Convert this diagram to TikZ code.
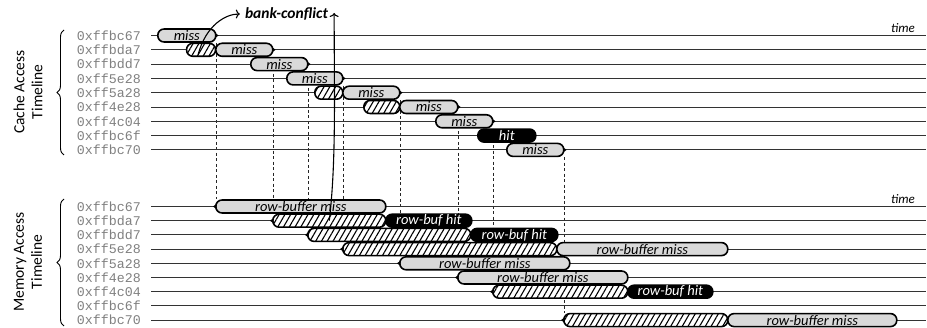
\documentclass[tikz,border=0pt]{standalone}
\usepackage{fontspec}
\setmainfont{Carlito}
\newfontfamily\addrfont{Liberation Mono}
\usetikzlibrary{arrows.meta,decorations.pathreplacing,patterns.meta,backgrounds}

\begin{document}
\begin{tikzpicture}[x=1pt,y=-1pt,
    addr/.style={anchor=east, inner sep=0pt, text=black!50, font=\addrfont\fontsize{13.3}{14}\selectfont},
    tline/.style={draw=black!80, line width=0.9pt},
    dline/.style={draw=black!85, line width=0.7pt, dash pattern=on 3pt off 2.5pt},
    seg/.style={draw=black, line width=1.6pt, rounded corners=6.3pt, minimum height=13pt,
      inner sep=0pt, anchor=west, font=\fontsize{14.5}{14}\selectfont\itshape},
    small/.style={font=\fontsize{14.5}{14}\selectfont\itshape},
    missbar/.style={seg, fill=black!15},
    hitbar/.style={seg, fill=black, text=white},
    waitbar/.style={seg, preaction={fill=white}, pattern={Lines[angle=60,distance=5pt,line width=1.1pt]}},
    timelbl/.style={anchor=south east, inner sep=1pt, font=\fontsize{13}{13}\selectfont\itshape},
    conflict/.style={-{To[length=4pt,width=9pt]}, line width=1.1pt}]

  \useasboundingbox (0,0) rectangle (927,328);

  % address labels and timelines
  \foreach \a [count=\i] in {0xffbc67,0xffbda7,0xffbdd7,0xff5e28,0xff5a28,0xff4e28,0xff4c04,0xffbc6f,0xffbc70} {
    \node[addr] (ca\i) at (141,{35.5+14.3*(\i-1)}) {\a};
    \node[addr] (ma\i) at (141,{206.5+14.2*(\i-1)}) {\a};
    \draw[tline] ([xshift=10pt]ca\i.east) -- ++(775,0);
    \draw[tline] ([xshift=10pt]ma\i.east) -- ++(775,0);
  }
  \node[timelbl] (ct) at (916,34) {time};
  \node[timelbl] (mt) at (916,205) {time};

  % braces
  \draw[decorate, decoration={brace, amplitude=7pt}, line width=0.9pt] (64,155) -- (64,30);
  \node[rotate=90, align=center, font=\fontsize{15.5}{18}\selectfont] (cl) at (28,92) {Cache Access\\Timeline};
  \draw[decorate, decoration={brace, amplitude=7pt}, line width=0.9pt] (64,326) -- (64,199);
  \node[rotate=90, align=center, font=\fontsize{15.5}{18}\selectfont] (ml) at (28,262) {Memory Access\\Timeline};

  % cache accesses
  \node[missbar, minimum width=58pt] (c1) at (157,35.5) {miss};
  \node[waitbar, minimum width=29pt] (c2h) at (186,49.8) {};
  \node[missbar, minimum width=57pt] (c2) at (215,49.8) {miss};
  \node[missbar, minimum width=57pt] (c3) at (250,64.1) {miss};
  \node[missbar, minimum width=56pt] (c4) at (286,78.4) {miss};
  \node[waitbar, minimum width=28pt] (c5h) at (314,92.7) {};
  \node[missbar, minimum width=57pt] (c5) at (342,92.7) {miss};
  \node[waitbar, minimum width=36pt] (c6h) at (363,107) {};
  \node[missbar, minimum width=58pt] (c6) at (399,107) {miss};
  \node[missbar, minimum width=57pt] (c7) at (435,121.3) {miss};
  \node[hitbar, minimum width=58pt] (c8) at (477,135.6) {hit};
  \node[missbar, minimum width=57pt] (c9) at (506,149.9) {miss};
  \foreach \n in {c1,c2,c3,c4,c5,c6,c7,c9}
    \fill ([xshift=2pt]\n.east) -- ++(-3.5,2.6) -- ++(0,-5.2) -- cycle;

  % memory accesses
  \node[missbar, small, minimum width=170pt] (m1) at (215,206.5) {row-buffer miss};
  \node[waitbar, minimum width=113pt] (m2h) at (272,220.7) {};
  \node[hitbar, small, minimum width=86pt] (m2) at (385,220.7) {row-buf hit};
  \node[waitbar, minimum width=163pt] (m3h) at (307,234.9) {};
  \node[hitbar, small, minimum width=87pt] (m3) at (470,234.9) {row-buf hit};
  \node[waitbar, minimum width=214pt] (m4h) at (342,249.1) {};
  \node[missbar, small, minimum width=171pt] (m4) at (556,249.1) {row-buffer miss};
  \node[missbar, small, minimum width=170pt] (m5) at (399,263.3) {row-buffer miss};
  \node[missbar, small, minimum width=170pt] (m6) at (457,277.5) {row-buffer miss};
  \node[waitbar, minimum width=135pt] (m7h) at (492,291.7) {};
  \node[hitbar, small, minimum width=85pt] (m7) at (627,291.7) {row-buf hit};
  \node[waitbar, minimum width=164pt] (m9h) at (563,320.1) {};
  \node[missbar, small, minimum width=169pt] (m9) at (727,320.1) {row-buffer miss};
  \foreach \n in {m1,m2h,m3h,m4h,m5,m6,m7h,m9h}
    \fill ([xshift=-2pt]\n.west) -- ++(3.5,2.6) -- ++(0,-5.2) -- cycle;

  % issue of each miss to memory
  \begin{scope}[on background layer]
    \foreach \c/\m in {c1/m1,c2/m2h,c3/m3h,c4/m4h,c5/m5,c6/m6,c7/m7h,c9/m9h}
      \draw[dline] (\c.south east) -- (\c.south east |- \m.north);
  \end{scope}

  % bank conflict
  \node[inner sep=1pt, font=\fontsize{15.5}{15}\selectfont\bfseries\itshape] (bc) at (286.5,14) {bank-conflict};
  \coordinate (bcin) at ([xshift=-4pt]bc.west);
  \coordinate (bctip) at ([xshift=5pt,yshift=1pt]bc.east);
  \draw[conflict] ([xshift=-3pt,yshift=-5pt]c2h.center) .. controls +(8,-30) and +(-14,0) .. (bcin);
  \draw[conflict] (m2h.center) .. controls +(7,-60) and +(0,80) .. (bctip);

\end{tikzpicture}
\end{document}
